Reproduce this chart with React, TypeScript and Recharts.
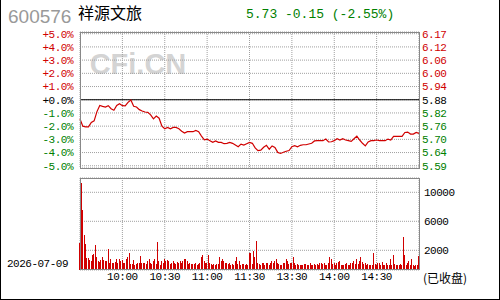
import React from 'react'
import {
  LineChart, Line, ComposedChart, Bar, XAxis, YAxis, CartesianGrid, ReferenceLine,
} from 'recharts'

// 分时数据：昨收 5.88，每 2 分钟一个点（涨跌幅 %）
const PREV_CLOSE = 5.88
const PCT_TICKS = [5, 4, 3, 2, 1, 0, -1, -2, -3, -4, -5]
const TIME_TICKS = [30, 60, 90, 120, 150, 180, 210]
const TIME_LABELS = ['10:00', '10:30', '11:00', '11:30', '13:30', '14:00', '14:30']
const VOL_TICKS = [2000, 6000, 10000]

const pricePct = [
  -1.46, -2.0, -2.05, -2.05, -1.72, -1.6, -0.9, -0.43, -0.5, -0.55,
  -0.45, -0.68, -0.8, -0.43, -0.3, -0.45, -0.47, -0.2, -0.02, -0.5,
  -0.55, -0.75, -0.85, -0.93, -0.95, -1.14, -1.45, -1.23, -1.4, -2.0,
  -2.2, -2.1, -2.2, -2.1, -2.1, -2.2, -2.38, -2.52, -2.42, -2.42,
  -2.42, -2.32, -2.42, -2.75, -3.03, -2.98, -3.1, -3.23, -3.12, -3.23,
  -3.23, -3.33, -3.3, -3.23, -3.3, -3.43, -3.56, -3.36, -3.43, -3.33,
  -3.23, -3.3, -3.65, -3.86, -3.82, -3.6, -3.45, -3.75, -3.5, -3.62,
  -3.99, -4.07, -3.98, -3.9, -3.85, -3.56, -3.48, -3.56, -3.45, -3.41,
  -3.41, -3.35, -3.3, -3.12, -3.1, -3.1, -3.1, -2.98, -3.2, -3.18,
  -3.1, -2.95, -3.05, -2.95, -3.05, -3.1, -3.15, -2.95, -2.75, -3.05,
  -3.3, -3.5, -3.2, -3.1, -3.1, -3.05, -3.1, -3.1, -3.1, -2.98,
  -3.05, -2.78, -2.78, -2.78, -2.78, -2.48, -2.45, -2.6, -2.6, -2.48,
  -2.55,
]

// 成交量（手），上午 120 根，下午 121 根
const amVolume = [
  3680, 12052, 8234, 4784, 3634, 1656, 1656, 1380, 1196, 2024,
  2254, 3404, 1748, 1196, 1104, 1334, 1748, 1334, 1196, 1196,
  2852, 1012, 1472, 1012, 920, 1104, 1472, 920, 1472, 1196,
  1334, 1012, 920, 1472, 1748, 2392, 828, 828, 1334, 736,
  828, 920, 920, 1886, 1012, 920, 920, 828, 1196, 1564,
  1012, 828, 1196, 1472, 828, 3818, 1196, 736, 1196, 920,
  1472, 1196, 1334, 1196, 828, 920, 1288, 920, 828, 1104,
  920, 1196, 1012, 1288, 1564, 1472, 1196, 828, 1012, 828,
  828, 828, 1012, 736, 828, 920, 1748, 2024, 1196, 920,
  1012, 2024, 920, 828, 736, 828, 736, 828, 828, 1748,
  1196, 1472, 1196, 1012, 920, 828, 920, 736, 828, 736,
  1196, 1748, 828, 1196, 736, 828, 828, 736, 828, 736,
]
const pmVolume = [
  2392, 2392, 828, 2668, 1748, 3956, 920, 828, 736, 1012,
  920, 736, 920, 920, 736, 920, 1288, 920, 1196, 1472,
  920, 828, 736, 736, 920, 1012, 1472, 1288, 828, 1012,
  920, 1840, 920, 736, 828, 644, 736, 736, 644, 828,
  828, 644, 736, 920, 644, 736, 828, 736, 828, 644,
  1012, 920, 828, 920, 736, 644, 1012, 1748, 1564, 828,
  920, 644, 1012, 1104, 1288, 736, 644, 736, 828, 920,
  736, 644, 1012, 1012, 1196, 828, 1564, 828, 1196, 1748,
  1104, 828, 1012, 736, 828, 644, 736, 736, 2392, 828,
  644, 1012, 920, 736, 1104, 736, 644, 920, 736, 644,
  1472, 736, 2116, 828, 644, 736, 644, 828, 644, 4600,
  2116, 736, 1012, 1288, 736, 1564, 644, 552, 644, 736,
  1932,
]

const RED = '#d00000'
const GREEN = '#008000'
const GRID = '#a0a0a0'
const MONO = '"Liberation Mono", "DejaVu Sans Mono", monospace'

const priceData = pricePct.map((p, i) => ({ t: i * 2, p }))
const volData = [...amVolume, ...pmVolume].map((v, i) => ({ t: i, v }))

const pctColor = (p: number) => (p > 0 ? RED : p < 0 ? GREEN : '#000')
const fmtPct = (p: number) => (p >= 0 ? '+' : '') + p.toFixed(1) + '%'
const fmtPrice = (p: number) => (PREV_CLOSE * (1 + p / 100)).toFixed(2)

const PctTick = (props: any) => {
  const { x, y, payload } = props
  return (
    <text x={x} y={y} dy="0.35em" textAnchor="end" fontSize={11} fontFamily={MONO}
      letterSpacing={-0.5} fill={pctColor(payload.value)}>
      {fmtPct(payload.value)}
    </text>
  )
}

const PriceTick = (props: any) => {
  const { x, y, payload } = props
  return (
    <text x={x} y={y} dy="0.35em" textAnchor="start" fontSize={11} fontFamily={MONO}
      letterSpacing={-0.5} fill={pctColor(payload.value)}>
      {fmtPrice(payload.value)}
    </text>
  )
}

const VolTick = (props: any) => {
  const { x, y, payload } = props
  return (
    <text x={x} y={y} dy="0.35em" textAnchor="start" fontSize={11} fontFamily={MONO}
      letterSpacing={-0.5} fill="#000">
      {payload.value}
    </text>
  )
}

const TimeTick = (props: any) => {
  const { x, y, payload } = props
  const idx = TIME_TICKS.indexOf(payload.value)
  return (
    <text x={x} y={y} dy="0.35em" textAnchor="middle" fontSize={11} fontFamily={MONO}
      letterSpacing={-0.5} fill="#000">
      {TIME_LABELS[idx]}
    </text>
  )
}

const VolBar = (props: any) => {
  const { x, y, width, height } = props
  if (!height || height <= 0) return null
  return <rect x={x} y={y} width={width} height={height} fill={RED} shapeRendering="crispEdges" />
}

export default function App() {
  return (
    <div style={{ position: 'fixed', left: 0, top: 0, width: 500, height: 300, background: '#fff', overflow: 'hidden' }}>
      {/* 背景文字 */}
      <svg width={500} height={300} style={{ position: 'absolute', left: 0, top: 0 }}>
        <text x={138} y={74} textAnchor="middle" fontSize={29} fontWeight="bold"
          fontFamily='"Liberation Sans", Arial, sans-serif' fill="#d4d4d4">CFi.CN</text>
        <text x={8} y={23} fontSize={19} fontFamily='"Liberation Sans", Arial, sans-serif' fill="#999">600576</text>
        <text x={78} y={19} fontSize={16} fontFamily='"Noto Sans CJK SC", sans-serif' fill="#000">祥源文旅</text>
        <text x={246} y={18} fontSize={13} fontFamily={MONO} fill={GREEN}>5.73 -0.15 (-2.55%)</text>
        <text x={7} y={263} dy="0.35em" fontSize={11} fontFamily={MONO} letterSpacing={-0.5} fill="#000">2026-07-09</text>
        <text x={423} y={279} dy="0.35em" fontSize={12} fontFamily='"Noto Sans CJK SC", sans-serif' fill="#000">(已收盘)</text>
      </svg>

      <div style={{ position: 'absolute', left: 0, top: 0 }}>
        <LineChart width={500} height={180} data={priceData} margin={{ top: 32, right: 0, bottom: 12, left: 0 }}>
          <XAxis dataKey="t" type="number" domain={[0, 240]} ticks={TIME_TICKS} hide />
          <YAxis yAxisId="pct" domain={[-5.17, 5.13]} ticks={PCT_TICKS} interval={0} width={80}
            axisLine={false} tickLine={false} tickSize={0} tickMargin={7} tick={<PctTick />} allowDataOverflow />
          <YAxis yAxisId="price" orientation="right" domain={[-5.17, 5.13]} ticks={PCT_TICKS} interval={0} width={81}
            axisLine={false} tickLine={false} tickSize={0} tickMargin={3} tick={<PriceTick />} allowDataOverflow />
          <CartesianGrid yAxisId="pct" stroke={GRID} strokeDasharray="1 1" />
          <ReferenceLine yAxisId="pct" y={0} stroke="#000" strokeWidth={1} />
          <Line yAxisId="pct" type="linear" dataKey="p" stroke={RED} strokeWidth={1.2} dot={false} isAnimationActive={false} />
        </LineChart>
      </div>

      <div style={{ position: 'absolute', left: 0, top: 0 }}>
        <ComposedChart width={500} height={300} data={volData} margin={{ top: 178, right: 0, bottom: 0, left: 80 }}>
          <XAxis dataKey="t" type="number" domain={[0, 240]} ticks={TIME_TICKS} interval={0} height={30}
            axisLine={false} tickLine={false} tickSize={0} tickMargin={6} tick={<TimeTick />} />
          <YAxis yAxisId="lab" orientation="right" domain={[-717, 11972]} ticks={VOL_TICKS} interval={0} width={81}
            axisLine={false} tickLine={false} tickSize={0} tickMargin={5} tick={<VolTick />} allowDataOverflow />
          <YAxis yAxisId="vol" hide domain={[0, 12690]} allowDataOverflow />
          <CartesianGrid yAxisId="lab" stroke={GRID} strokeDasharray="1 1" />
          <Bar yAxisId="vol" dataKey="v" barSize={1} fill={RED} shape={<VolBar />} isAnimationActive={false} />
        </ComposedChart>
      </div>

      {/* 边框 */}
      <div style={{ position: 'absolute', left: 80, top: 32, width: 338, height: 135, border: '1px solid #888' }} />
      <div style={{ position: 'absolute', left: 80, top: 178, width: 338, height: 90, border: '1px solid #888' }} />
      <div style={{ position: 'absolute', left: 0, top: -1, width: 498, height: 299, border: '1px solid #000' }} />
    </div>
  )
}
